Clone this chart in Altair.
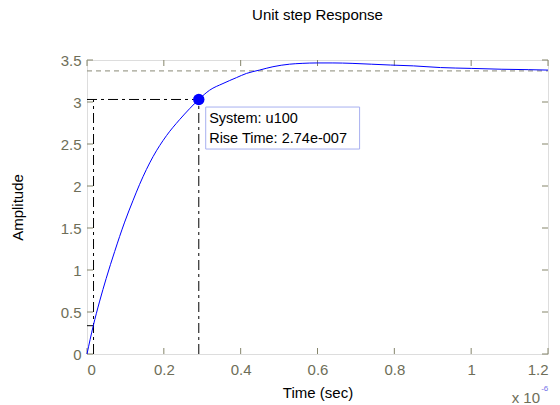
import altair as alt
import pandas as pd

# ---- data ----
time_us = [0, 0.008, 0.016, 0.033, 0.05, 0.072, 0.098, 0.12, 0.137, 0.172, 0.207, 0.241,
           0.267, 0.291, 0.319, 0.354, 0.389, 0.415, 0.449, 0.484, 0.527, 0.56, 0.6, 0.64,
           0.69, 0.74, 0.79, 0.85, 0.92, 1.0, 1.08, 1.15, 1.2]
amplitude = [0, 0.17, 0.33, 0.63, 0.90, 1.22, 1.57, 1.83, 2.02, 2.35, 2.60, 2.79,
             2.92, 3.03, 3.14, 3.22, 3.29, 3.34, 3.38, 3.42, 3.45, 3.46, 3.465, 3.465,
             3.46, 3.45, 3.44, 3.43, 3.41, 3.40, 3.39, 3.385, 3.38]
x_ticks = [0, 0.2, 0.4, 0.6, 0.8, 1.0, 1.2]
y_ticks = [0, 0.5, 1, 1.5, 2, 2.5, 3, 3.5]
steady_state = 3.37
rise_start_t = 0.017
rise_end_t = 0.291
rise_low_y = 0.337
rise_high_y = 3.03
tip_lines = ["System: u100", "Rise Time: 2.74e-007"]
tip_line_y = [2.795, 2.557]
tip_box = {"x0": 0.309, "x1": 0.7096, "y0": 2.44, "y1": 2.94}

W, H = 461, 294
FONT = "Liberation Sans"
FRAME = "#85856b"
LABEL = "#6e6e58"

xs = alt.Scale(domain=[0, 1.2], nice=False, zero=False)
ys = alt.Scale(domain=[0, 3.5], nice=False, zero=False)

x_axis = alt.Axis(values=x_ticks, format="~g", grid=False, ticks=False, domain=False,
                  labelPadding=8, titlePadding=8, labelFont=FONT, labelFontSize=15,
                  labelColor=LABEL, titleFont=FONT, titleFontSize=15,
                  titleFontWeight="normal", titleColor="#000000")
y_axis = alt.Axis(values=y_ticks, format="~g", grid=False, ticks=False, domain=False,
                  labelPadding=6, titlePadding=35, labelFont=FONT, labelFontSize=15,
                  labelColor=LABEL, titleFont=FONT, titleFontSize=15,
                  titleFontWeight="normal", titleColor="#000000")
XT = "Time (sec)"
YT = "Amplitude"


def X(field):
    return alt.X(field, type="quantitative", scale=xs, axis=x_axis, title=XT)


def Y(field):
    return alt.Y(field, type="quantitative", scale=ys, axis=y_axis, title=YT)


curve_df = pd.DataFrame({"t": time_us, "a": amplitude})
curve = alt.Chart(curve_df).mark_line(color="#0000ff", strokeWidth=1,
                                      interpolate="monotone").encode(x=X("t"), y=Y("a"))

xt_df = pd.DataFrame({"v": x_ticks})
yt_df = pd.DataFrame({"v": y_ticks})
tick_bottom = alt.Chart(xt_df).mark_rule(color=FRAME).encode(
    x=X("v"), y=alt.value(H), y2=alt.value(H - 6))
tick_top = alt.Chart(xt_df).mark_rule(color=FRAME).encode(
    x=X("v"), y=alt.value(0), y2=alt.value(6))
tick_left = alt.Chart(yt_df).mark_rule(color=FRAME).encode(
    y=Y("v"), x=alt.value(0), x2=alt.value(6))
tick_right = alt.Chart(yt_df).mark_rule(color=FRAME).encode(
    y=Y("v"), x=alt.value(W), x2=alt.value(W - 6))

ss_df = pd.DataFrame({"y": [steady_state], "x0": [0], "x1": [1.2]})
steady = alt.Chart(ss_df).mark_rule(color="#8a8a76", strokeDash=[5, 4], strokeWidth=1).encode(
    x=X("x0"), x2="x1:Q", y=Y("y"))

seg_df = pd.DataFrame({
    "x0": [rise_start_t, rise_end_t, 0, 0],
    "x1": [rise_start_t, rise_end_t, rise_end_t, rise_start_t],
    "y0": [0, 0, rise_high_y, rise_low_y],
    "y1": [rise_high_y, rise_high_y, rise_high_y, rise_low_y],
})
segs = alt.Chart(seg_df).mark_rule(color="#000000", strokeDash=[10, 4, 3, 4], strokeWidth=1).encode(
    x=X("x0"), x2="x1:Q", y=Y("y0"), y2="y1:Q")

pt_df = pd.DataFrame({"t": [rise_end_t], "a": [rise_high_y]})
marker = alt.Chart(pt_df).mark_point(filled=True, color="#0000ff", size=130, opacity=1).encode(
    x=X("t"), y=Y("a"))

box_df = pd.DataFrame([tip_box])
box = alt.Chart(box_df).mark_rect(fill="#ffffff", stroke="#a8b0f0", strokeWidth=1).encode(
    x=X("x0"), x2="x1:Q", y=Y("y0"), y2="y1:Q")

tip_df = pd.DataFrame({"t": [0.318, 0.318], "a": tip_line_y, "txt": tip_lines})
tip_text = alt.Chart(tip_df).mark_text(align="left", baseline="middle", font=FONT,
                                       fontSize=14.5, color="#000000").encode(
    x=X("t"), y=Y("a"), text="txt:N")

exp_df = pd.DataFrame({"t": [1.2], "a": [0], "txt": ["x 10"], "sup": ["-6"]})
exp_main = alt.Chart(exp_df).mark_text(align="right", baseline="alphabetic", font=FONT,
                                       fontSize=15, color=LABEL, dx=-8, dy=49).encode(
    x=X("t"), y=Y("a"), text="txt:N")
exp_sup = alt.Chart(exp_df).mark_text(align="left", baseline="alphabetic", font=FONT,
                                      fontSize=8, color="#7070e8", dx=-6.8, dy=37).encode(
    x=X("t"), y=Y("a"), text="sup:N")

chart = alt.layer(
    tick_bottom, tick_top, tick_left, tick_right, steady, segs, curve, marker, box, tip_text,
    exp_main, exp_sup,
).properties(
    width=W, height=H,
    title=alt.TitleParams("Unit step Response", font=FONT, fontSize=15, fontWeight="normal",
                          color="#000000", anchor="middle", offset=30),
    autosize=alt.AutoSizeParams(type="none"),
    padding={"left": 87, "top": 60, "right": 12, "bottom": 51},
).configure_view(stroke=FRAME, strokeWidth=1).configure(background="#ffffff")

chart.save("out.html", embed_options={"renderer": "svg", "actions": False})
